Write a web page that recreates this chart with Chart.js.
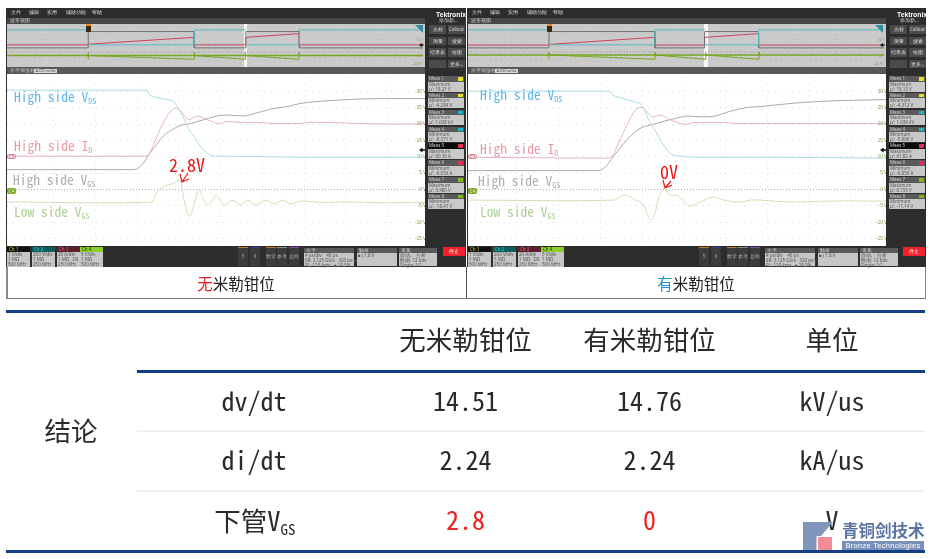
<!DOCTYPE html>
<html>
<head>
<meta charset="utf-8">
<title>米勒钳位对比</title>
<script src="https://cdn.jsdelivr.net/npm/chart.js@4"></script>
<style>
  html, body { margin: 0; padding: 0; background: #fff; }
  #page { position: relative; width: 937px; height: 559px; overflow: hidden; font-family: "Noto Sans CJK SC", "Noto Sans", sans-serif; }
  .abs { position: absolute; white-space: nowrap; }
  .scope { filter: blur(0.45px); }
  .tiny { font-size: 4.5px; line-height: 5px; font-family: "Noto Sans", sans-serif; }
  .wave-label { position: absolute; font-family: "Noto Sans Mono CJK SC", "DejaVu Sans Mono", monospace; font-size: 13.5px; line-height: 14px; white-space: nowrap; }
  .wave-label sub { font-size: 8px; vertical-align: -2px; line-height: 0; }
  .note { position: absolute; color: #f01515; font-family: "Noto Sans Mono CJK SC", "DejaVu Sans Mono", monospace; font-size: 18px; line-height: 20px; white-space: nowrap; }
  .cell { position: absolute; transform: translate(-50%, -50%); white-space: nowrap; color: #222; }
  .rule { position: absolute; }
  canvas { display: block; }
</style>
</head>
<body>
<div id="page"></div>

<script>
  // Overview strip (time in us, values in volts of the Ch4 scale)
  const overviewTicks = [-4, 0, 4, 8, 12, 16, 20, 24, 28];
  const leftOverviewTime = [-7.8, 0, 0.01, 10.2, 10.21, 15.16, 15.17, 20.3, 20.31, 32.2];
  const leftOverviewVds = [28.3, 28.3, 9.3, 9.3, 28.3, 28.3, 9.3, 9.3, 28.3, 28.3];
  const leftOverviewId = [9.3, 9.3, 10.1, 18.8, 9.3, 9.3, 18.8, 23.5, 9.3, 9.3];
  const leftOverviewVgs = [5.4, 5.4, 26.1, 26.1, 5.4, 5.4, 26.1, 26.1, 5.4, 5.4];
  const leftOverviewLow = [-4.3, -4.3, -4.3, -4.3, -4.3, -4.3, -4.3, -4.3, -4.3, -4.3];
  const rightOverviewTime = [-7.8, 0, 0.01, 10.2, 10.21, 15, 15.01, 20.2, 20.21, 32.3];
  const rightOverviewVds = [28.3, 28.3, 9.3, 9.3, 28.3, 28.3, 9.3, 9.3, 28.3, 28.3];
  const rightOverviewId = [9, 9, 9.8, 18.8, 9, 9, 18.8, 23.5, 9, 9];
  const rightOverviewVgs = [5.4, 5.4, 26.1, 26.1, 5.4, 5.4, 26.1, 26.1, 5.4, 5.4];
  const rightOverviewLow = [-3.6, -3.6, -3.6, -3.6, -3.6, -3.6, -3.6, -3.6, -3.6, -3.6];
  const overviewSpikes = [0, 10.2, 15.1, 20.25];

  // Zoomed traces, left scope (time in ns after 15 us, values in volts)
  const leftVdsTime = [-125, 9, 12, 20, 29, 35, 39, 44, 49, 56, 62, 68, 75, 89, 156, 276];
  const leftVds = [30.4, 30.4, 28.9, 28.1, 27.5, 26.9, 25.1, 22.2, 18.7, 15.5, 12.6, 10.8, 10.2, 10.2, 9.9, 9.9];
  const leftIdTime = [-125, 6, 11, 17, 24, 30, 36, 41, 46, 49, 58, 65, 72, 78, 87, 102, 115, 131, 156, 166, 195, 248, 276];
  const leftId = [10.2, 10.2, 10.8, 14.9, 19.9, 23.1, 24.9, 24.3, 22.2, 21.3, 22.5, 21.6, 20.8, 20.2, 20.8, 20.5, 20.5, 20.2, 20.2, 20.6, 20.4, 20.0, 20.2];
  const leftHighTime = [-125, -4, 0, 6, 12, 19, 25, 34, 41, 51, 63, 77, 86, 102, 111, 128, 144, 156, 185, 233, 276];
  const leftHigh = [6.1, 6.1, 6.4, 8.2, 11.1, 14.0, 16.4, 18.4, 19.6, 20.2, 21.3, 22.5, 22.8, 22.5, 23.1, 24.6, 25.4, 26.3, 27.2, 27.8, 27.8];
  const leftLowTime = [-125, 14, 17, 20, 27, 34, 41, 43, 46, 50, 54, 58, 60, 62, 67, 72, 76, 80, 84, 91, 99, 106, 114, 123, 131, 140, 147, 156, 175, 204, 233, 276];
  const leftLow = [-3.8, -3.8, -2.0, -0.3, 1.2, 1.8, 2.8, 0.3, -5.0, -8.2, -5.0, -0.6, 0, -1.8, -4.7, -3.2, -1.8, -3.5, -4.7, -3.2, -4.7, -3.2, -4.7, -3.2, -4.4, -3.2, -4.4, -3.5, -3.9, -3.8, -4.0, -3.9];

  // Zoomed traces, right scope
  const rightVdsTime = [-127, 8, 12, 22, 32, 40, 46, 53, 60, 67, 77, 96, 154, 274];
  const rightVds = [30.1, 30.1, 28.9, 27.8, 26.9, 25.7, 21.6, 17.8, 14.0, 11.1, 10.2, 9.9, 9.9, 9.6];
  const rightIdTime = [-127, 7, 12, 17, 24, 31, 36, 40, 45, 50, 58, 65, 74, 82, 89, 103, 118, 132, 154, 274];
  const rightId = [9.9, 9.6, 10.5, 14.0, 18.7, 23.1, 24.9, 25.1, 23.7, 22.2, 22.8, 21.6, 20.5, 19.9, 20.5, 20.5, 20.5, 20.2, 20.2, 20.2];
  const rightHighTime = [-127, -2, 5, 12, 22, 32, 40, 50, 60, 74, 84, 99, 110, 125, 141, 154, 192, 230, 274];
  const rightHigh = [5.8, 5.8, 7.0, 9.9, 14.0, 17.3, 19.0, 19.9, 20.8, 21.9, 22.5, 22.2, 22.5, 24.0, 25.1, 25.4, 26.6, 27.2, 27.5];
  const rightLowTime = [-127, 13, 21, 26, 34, 41, 45, 49, 53, 56, 61, 67, 74, 80, 86, 96, 108, 118, 134, 144, 154, 182, 221, 274];
  const rightLow = [-3.2, -3.2, -1.8, -1.8, -3.2, -4.4, -7.6, -9.4, -6.4, -2.6, 0, -1.8, -1.8, -3.5, -5.0, -3.8, -2.3, -3.2, -3.8, -3.2, -3.2, -3.8, -3.5, -3.5];

  // Measurement cards
  const measKinds = ['Maximum', 'Minimum', 'Maximum', 'Minimum', 'Maximum', 'Minimum', 'Maximum', 'Minimum'];
  const measChips = ['#e8e020', '#e8e020', '#18b8c8', '#18b8c8', '#e0305a', '#e0305a', '#80b818', '#80b818'];
  const leftMeas = ['18.21 V', '-4.284 V', '1.038 kV', '-8.371 V', '60.36 A', '-0.056 A', '5.480 V', '-18.41 V'];
  const rightMeas = ['18.13 V', '-4.312 V', '1.039 kV', '-5.906 V', '61.82 A', '-0.850 A', '8.153 V', '-11.14 V'];

  // Comparison table
  const tableHead = ['无米勒钳位', '有米勒钳位', '单位'];
  const tableRows = ['dv/dt', 'di/dt'];
  const withoutClamp = ['14.51', '2.24', '2.8'];
  const withClamp = ['14.76', '2.24', '0'];
  const tableUnits = ['kV/us', 'kA/us', 'V'];

  const COLORS = { vds: '#a9dbe4', id: '#e6b4c2', high: '#aca8a8', low: '#d2dfb4' };
  const page = document.getElementById('page');

  function addBox(parent, x, y, w, h, bg, text, color, extra) {
    const el = document.createElement('div');
    el.className = 'abs';
    el.style.cssText += `left:${x}px;top:${y}px;width:${w}px;height:${h}px;background:${bg || 'transparent'};` + (extra || '');
    if (text) {
      el.textContent = text;
      el.style.color = color || '#ccc';
      el.classList.add('tiny');
    }
    parent.appendChild(el);
    return el;
  }

  function addCanvas(parent, x, y, w, h) {
    const holder = addBox(parent, x, y, w, h);
    const canvas = document.createElement('canvas');
    canvas.width = w;
    canvas.height = h;
    holder.appendChild(canvas);
    return canvas;
  }

  function pairs(times, values) {
    return times.map((t, i) => ({ x: t, y: values[i] }));
  }

  function trace(label, color, data, extra) {
    return Object.assign({ label, data, borderColor: color, borderWidth: 1, pointRadius: 0, fill: false }, extra);
  }

  /**
   * Overview strip across the top of a scope
   */
  function drawOverview(parent, x, opt) {
    const w = 416, h = 43;
    const spikeData = [];
    overviewSpikes.forEach(t => {
      spikeData.push({ x: t, y: -9 }, { x: t + 0.01, y: 0 }, { x: t + 0.02, y: opt.low[0] });
    });
    new Chart(addCanvas(parent, x, 24, w, h), {
      type: 'line',
      data: {
        datasets: [
          trace('Ch4 zero', '#9a9a9a', [{ x: opt.min, y: 0 }, { x: opt.max, y: 0 }], { borderDash: [1, 2] }),
          // the falling VDS edges do not show on the strip
          trace('VDS', '#55bcc4', pairs(opt.time, opt.vds), {
            segment: { borderColor: ctx => (ctx.p0.parsed.y > ctx.p1.parsed.y + 5 ? 'transparent' : undefined) }
          }),
          trace('VGS', '#6f6f6f', pairs(opt.time, opt.vgs)),
          trace('ID', '#d0405e', pairs(opt.time, opt.id)),
          trace('Low', '#79a51f', pairs(opt.time, opt.low), { borderWidth: 1.4 }),
          trace('Spikes', '#79a51f', spikeData, { borderWidth: 1 })
        ]
      },
      options: {
        responsive: false,
        animation: false,
        layout: { padding: 0 },
        plugins: { legend: { display: false }, tooltip: { enabled: false } },
        scales: {
          x: {
            type: 'linear', min: opt.min, max: opt.max,
            grid: { color: '#dadada', drawTicks: false }, border: { display: false, dash: [1, 4] },
            afterBuildTicks: s => { s.ticks = overviewTicks.map(v => ({ value: v })); },
            afterFit: s => { s.height = 0; },
            ticks: { padding: -5, color: '#555', font: { size: 4.5 }, maxRotation: 0, callback: v => v === 0 ? '0 s' : v + ' µs' }
          },
          y: {
            position: 'right', min: -14.9, max: 31.8,
            grid: { color: '#dadada', drawTicks: false }, border: { display: false, dash: [1, 4] },
            afterFit: s => { s.width = 0; },
            ticks: { mirror: true, stepSize: 5, padding: 1, color: '#7f9a3f', font: { size: 3.5 }, callback: v => (v > 22 ? '' : v + ' V') }
          }
        }
      }
    });
  }

  /**
   * Main zoomed waveform plot
   */
  function drawMain(parent, x, w, opt) {
    new Chart(addCanvas(parent, x, 74, w, 172), {
      type: 'line',
      data: {
        datasets: [
          trace('Ch4 zero', '#a8a8a8', [{ x: opt.min, y: 0 }, { x: opt.max, y: 0 }], { borderDash: [1, 2] }),
          trace('High side VDS', COLORS.vds, pairs(opt.vdsT, opt.vds), { cubicInterpolationMode: 'monotone' }),
          trace('High side ID', COLORS.id, pairs(opt.idT, opt.id), { cubicInterpolationMode: 'monotone' }),
          trace('High side VGS', COLORS.high, pairs(opt.highT, opt.high), { cubicInterpolationMode: 'monotone' }),
          trace('Low side VGS', COLORS.low, pairs(opt.lowT, opt.low), { tension: 0.35 })
        ]
      },
      options: {
        responsive: false,
        animation: false,
        layout: { padding: 0 },
        plugins: { legend: { display: false }, tooltip: { enabled: false } },
        scales: {
          x: {
            type: 'linear', min: opt.min, max: opt.max,
            grid: { color: '#dcdcdc', drawTicks: false }, border: { display: false, dash: [1, 5] },
            afterBuildTicks: s => { s.ticks = opt.ticks.map(v => ({ value: v })); },
            afterFit: s => { s.height = 0; },
            ticks: {
              padding: -6, color: '#666', font: { size: 4.5 }, maxRotation: 0,
              callback: v => v === 0 ? '15 µs' : (15 + v / 1000).toFixed(2) + ' µs'
            }
          },
          y: {
            position: 'right', min: -16.1, max: 34.2,
            grid: { color: '#dcdcdc', drawTicks: false }, border: { display: false, dash: [1, 5] },
            afterFit: s => { s.width = 0; },
            afterBuildTicks: s => { s.ticks = [-15, -10, -5, 0, 5, 10, 15, 20, 25, 30].map(v => ({ value: v })); },
            ticks: { mirror: true, padding: 1, color: '#7f9a3f', font: { size: 4.5 }, callback: v => v + ' V' }
          }
        }
      }
    });
  }

  /**
   * Window furniture of one scope: menus, buttons, measurement cards, channel bar
   */
  function drawScope(cfg) {
    const s = document.createElement('div');
    s.className = 'scope abs';
    s.style.cssText += 'left:0;top:0;width:937px;height:559px;';
    page.appendChild(s);
    const x0 = cfg.x;

    addBox(s, x0, 8, cfg.w, 259, '#2d2d2d');
    ['文件', '编辑', '实用', '辅助功能', '帮助'].forEach((m, i) => {
      addBox(s, x0 + 5 + [0, 18, 36, 55, 81][i], 10, 20, 6, null, m, '#ddd');
    });
    addBox(s, x0 + 1, 18, cfg.plotW, 6, '#474747', '波形视图', '#ccc', 'padding-left:3px;box-sizing:border-box;');
    addBox(s, x0 + 1, 24, cfg.plotW, 43, '#c9c9c9');
    addBox(s, cfg.barX, 24, 3.5, 43, '#f7f7f7');
    addBox(s, x0 + 1, 67, cfg.plotW, 7, '#585858', '水平缩放标度', '#ccc', 'padding:1px 0 0 3px;box-sizing:border-box;');
    addBox(s, x0 + 28, 69, 23, 4, '#dcdcdc', '40.00 ns/div', '#333', 'font-size:3.5px;line-height:4px;text-align:center;');
    addBox(s, x0 + 1, 74, cfg.plotW, 172, '#ffffff');

    // Right hand panel
    const px = x0 + cfg.plotW + 4;
    const logo = addBox(s, px + 8, 9.5, 30, 9, null, 'Tektronix', '#fff');
    logo.style.cssText += 'font:bold 6.8px/9px "Liberation Sans",sans-serif;';
    addBox(s, px + 11, 17.5, 24, 6, null, '添加新...', '#ccc');
    [['光标', 'Callout'], ['测量', '搜索'], ['结果表', '绘图'], ['', '更多...']].forEach((row, r) => {
      row.forEach((label, c) => {
        addBox(s, px + 1 + c * 19, 25 + r * 11.6, 17, 8.5, '#4a4a4a', label, '#ddd', 'text-align:center;line-height:8px;');
      });
    });
    cfg.meas.forEach((v, i) => {
      const y = 76 + i * 16.85;
      addBox(s, px, y, 36, 5.5, i === 4 ? '#0c0c0c' : '#5a5a5a', 'Meas ' + (i + 1), '#ccc', 'padding-left:1px;box-sizing:border-box;');
      addBox(s, px + 30, y + 1, 5, 3.5, measChips[i]);
      addBox(s, px, y + 5.5, 36, 10, '#c9c9c9', measKinds[i] + '\nμ\': ' + v, '#555', 'white-space:pre;padding-left:1px;box-sizing:border-box;');
    });

    // Bottom channel bar
    const chX = [1, 26, 51, 74];
    const chHead = ['#111111', '#0f5e5e', '#5c1f2c', '#8bd02a'];
    const chText = ['#d8c820', '#30c8c8', '#e06080', '#1a3300'];
    cfg.channels.forEach((lines, i) => {
      addBox(s, x0 + chX[i], 247, 23, 5, chHead[i], 'Ch ' + (i + 1), chText[i], 'padding-left:2px;box-sizing:border-box;');
      addBox(s, x0 + chX[i], 252, 23, 14.5, '#c6c6c6', lines, '#555', 'white-space:pre;padding-left:1px;box-sizing:border-box;');
    });
    [['5', '#b5782c', 232], ['6', '#3a3f8a', 244], ['数学', '#b5782c', 260], ['参考', '#8a8a8a', 271], ['总线', '#7d4aa8', 283]].forEach(b => {
      addBox(s, x0 + b[2], 247, 10, 19, '#3c3c3c', b[0], '#aaa', `border-top:1px solid ${b[1]};box-sizing:border-box;text-align:center;line-height:17px;`);
    });
    [[298, 50, '水平', '4 µs/div    40 µs\nSR: 3.125 GS/s   320 ps/pt\nRL: 125 kpts   ■ 19.5%'],
      [351, 40, '触发', '■ ∫ 1.8 V'],
      [393, 38, '采集', '自动,    分析\n数据: 12 bits\nSingle: 1/1']].forEach(p => {
      addBox(s, x0 + p[0], 248, p[1], 4.5, '#5a5a5a', p[2], '#ccc', 'padding-left:2px;box-sizing:border-box;');
      addBox(s, x0 + p[0], 252.5, p[1], 13.5, '#c6c6c6', p[3], '#555', 'white-space:pre;padding-left:1px;box-sizing:border-box;');
    });
    addBox(s, x0 + cfg.w - 23, 247, 22, 9, '#f0202c', '停止', '#fff', 'text-align:center;line-height:9px;');
    return s;
  }

  // Small markers that sit on top of the plot canvases of one scope
  function drawMarkers(s, x0, triggerX, cornerX, cursorX) {
    addBox(s, x0 + 1, 153.5, 9, 5.5, '#f6dfe3', 'C3', '#c76a7c', 'border:0.5px solid #d88a9a;box-sizing:border-box;border-radius:2px;text-align:center;line-height:4.5px;');
    addBox(s, x0 + 1, 187.5, 9, 6, '#79a51f', 'C4', '#f4f4f4', 'border-radius:2px;text-align:center;line-height:6px;');
    addBox(s, triggerX - 2.5, 24, 5, 2, '#f08a20');
    addBox(s, triggerX - 2.5, 26, 5, 6, '#3a2a10');
    addBox(s, cornerX, 25, 8, 8, '#2f8f9f', null, null, 'clip-path:polygon(0 0,100% 0,100% 100%);');
    addBox(s, cursorX, 147.5, 6, 5, '#111', null, null, 'clip-path:polygon(0 50%,60% 0,60% 35%,100% 35%,100% 65%,60% 65%,60% 100%);');
    addBox(s, cursorX, 43, 5, 4, '#111', null, null, 'clip-path:polygon(0 50%,60% 0,60% 35%,100% 35%,100% 65%,60% 65%,60% 100%);');
  }

  function addWaveLabel(x, y, color, name, sub) {
    const el = document.createElement('div');
    el.className = 'wave-label';
    el.style.cssText += `left:${x}px;top:${y}px;color:${color};`;
    el.innerHTML = `${name}<sub>${sub}</sub>`;
    page.appendChild(el);
  }

  function addNote(x, y, text, arrow) {
    const el = document.createElement('div');
    el.className = 'note';
    el.style.cssText += `left:${x}px;top:${y}px;`;
    el.textContent = text;
    page.appendChild(el);
    const svg = document.createElementNS('http://www.w3.org/2000/svg', 'svg');
    svg.setAttribute('width', 937);
    svg.setAttribute('height', 559);
    svg.style.cssText = 'position:absolute;left:0;top:0;';
    const [x1, y1, x2, y2] = arrow;
    svg.innerHTML = `<path d="M${x1} ${y1}L${x2} ${y2}M${x2 - 2} ${y2 - 8}L${x2} ${y2}L${x2 + 7} ${y2 - 3}" fill="none" stroke="#f01515" stroke-width="1.2"/>`;
    page.appendChild(svg);
  }

  function addCell(x, y, text, size, color, extra) {
    const el = document.createElement('div');
    el.className = 'cell';
    el.style.cssText += `left:${x}px;top:${y}px;font-size:${size}px;color:${color || '#222'};` + (extra || '');
    el.innerHTML = text;
    page.appendChild(el);
    return el;
  }

  function addRule(x, y, w, h, color) {
    const el = document.createElement('div');
    el.className = 'rule';
    el.style.cssText = `left:${x}px;top:${y}px;width:${w}px;height:${h}px;background:${color};`;
    page.appendChild(el);
  }

  const channelText = ['1 V/div\n1 MΩ\n500 MHz', '200 V/div\n1 MΩ\n250 MHz', '20 A/div\n1 MΩ   DS\n250 MHz', '5 V/div\n1 MΩ\n500 MHz'];
  const leftScope = drawScope({ x: 6, w: 460, plotW: 418, barX: 243.5, meas: leftMeas, channels: channelText });
  drawOverview(leftScope, 7, { min: -7.8, max: 32.2, time: leftOverviewTime, vds: leftOverviewVds, id: leftOverviewId, vgs: leftOverviewVgs, low: leftOverviewLow });
  drawMain(leftScope, 7, 418, {
    min: -125, max: 276, ticks: [-80, -40, 0, 40, 80, 120, 160, 200, 240],
    vdsT: leftVdsTime, vds: leftVds, idT: leftIdTime, id: leftId, highT: leftHighTime, high: leftHigh, lowT: leftLowTime, low: leftLow
  });
  drawMarkers(leftScope, 6, 88, 415, 419);
  const rightScope = drawScope({ x: 467, w: 459, plotW: 418, barX: 704, meas: rightMeas, channels: channelText });
  drawOverview(rightScope, 468, { min: -7.8, max: 32.3, time: rightOverviewTime, vds: rightOverviewVds, id: rightOverviewId, vgs: rightOverviewVgs, low: rightOverviewLow });
  drawMain(rightScope, 468, 418, {
    min: -127, max: 274, ticks: [-120, -80, -40, 0, 40, 80, 120, 160, 200, 240],
    vdsT: rightVdsTime, vds: rightVds, idT: rightIdTime, id: rightId, highT: rightHighTime, high: rightHigh, lowT: rightLowTime, low: rightLow
  });
  drawMarkers(rightScope, 467, 549, 875, 880);

  // Trace names and the two callouts
  addWaveLabel(14, 89, '#5cb6ef', 'High side V', 'DS');
  addWaveLabel(14, 138, '#e89ba4', 'High side I', 'D');
  addWaveLabel(13, 172, '#adadad', 'High side V', 'GS');
  addWaveLabel(14, 204, '#abd092', 'Low side V', 'GS');
  addWaveLabel(480, 87, '#5cb6ef', 'High side V', 'DS');
  addWaveLabel(480, 141, '#e89ba4', 'High side I', 'D');
  addWaveLabel(478, 172.5, '#adadad', 'High side V', 'GS');
  addWaveLabel(480, 204, '#abd092', 'Low side V', 'GS');
  addNote(169, 153.5, '2.8V', [188, 173, 182, 182]);
  addNote(660, 161, '0V', [671, 181, 665, 188]);

  // Captions below the scopes
  addRule(6, 267, 1.5, 31, '#8a8a8a');
  addRule(465.5, 267, 1.5, 31, '#555');
  addRule(924.5, 267, 1.5, 31, '#8a8a8a');
  addRule(6, 298, 920, 1, '#777');
  addCell(236, 283, '<span style="color:#ee2020">无</span>米勒钳位', 15.5);
  addCell(696, 283, '<span style="color:#1f8fd8">有</span>米勒钳位', 15.5);

  // Comparison table
  addRule(6, 310, 919, 3, '#123f86');
  addRule(137, 370, 788, 3, '#123f86');
  addRule(137, 430, 788, 2, '#f0f0f0');
  addRule(137, 490, 788, 2, '#f0f0f0');
  addRule(6, 549.5, 919, 3, '#123f86');

  const COL_X = [254, 465.5, 649.5, 832];
  const ROW_Y = [399, 458, 518];
  const MONO = 'font-family:\'Noto Sans Mono CJK SC\',\'DejaVu Sans Mono\',monospace;';
  tableHead.forEach((h, i) => addCell(COL_X[i + 1], 338, h, 26.5, '#2a2a2a'));
  addCell(71, 429, '结论', 26.5, '#2a2a2a');
  tableRows.forEach((r, i) => addCell(COL_X[0], ROW_Y[i], r, 26, '#2a2a2a', MONO));
  addCell(COL_X[0] + 1, ROW_Y[2] + 1, '下管V<sub style="font-size:15px;vertical-align:-4px;line-height:0">GS</sub>', 26.5, '#2a2a2a', MONO);
  ROW_Y.forEach((y, i) => {
    const red = i === 2 ? '#ee2020' : '#2a2a2a';
    addCell(COL_X[1], y, withoutClamp[i], 26, red, MONO);
    addCell(COL_X[2], y, withClamp[i], 26, red, MONO);
    addCell(COL_X[3], y, tableUnits[i], 26, '#2a2a2a', MONO);
  });

  // Watermark, bottom right
  const mark = document.createElement('div');
  mark.className = 'abs';
  mark.style.cssText += 'left:803px;top:522px;width:123px;height:29px;';
  mark.innerHTML = `
    <div class="abs" style="left:0;top:0;width:30px;height:28px;background:#8295ba;clip-path:polygon(0 0,100% 0,60% 50%,45% 50%,45% 100%,0 100%)"></div>
    <div class="abs" style="left:15px;top:15px;width:14px;height:13px;background:#f08c94"></div>
    <div class="abs" style="left:39px;top:-4px;font:bold 16.5px 'Noto Sans CJK SC';color:#5a73a3">青铜剑技术</div>
    <div class="abs" style="left:39px;top:19px;width:82px;height:9px;background:#7790ba;color:#fff;font:7.5px/9px 'Liberation Sans';text-align:center;letter-spacing:0.3px">Bronze Technologies</div>`;
  page.appendChild(mark);
</script>
</body>
</html>
